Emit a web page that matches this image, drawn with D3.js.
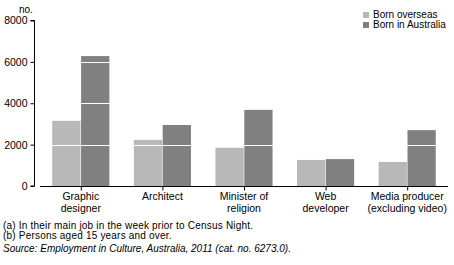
<!DOCTYPE html>
<html>
<head>
<meta charset="utf-8">
<script src="https://cdn.jsdelivr.net/npm/d3@7"></script>
<style>
  body { margin: 0; background: #fff; }
  svg { display: block; }
  text { font-family: "Liberation Sans Narrow", "Arial Narrow", sans-serif; fill: #000; }
</style>
</head>
<body>
<svg width="454" height="265"></svg>
<script>
// data
var categories = [["Graphic", "designer"], ["Architect"], ["Minister of", "religion"], ["Web", "developer"], ["Media producer", "(excluding video)"]];
var seriesNames = ["Born overseas", "Born in Australia"];
var bornOverseas = [3150, 2230, 1850, 1260, 1160];
var bornAustralia = [6280, 2950, 3680, 1300, 2700];
var yTicks = [0, 2000, 4000, 6000, 8000];
var footnotes = ["(a) In their main job in the week prior to Census Night.", "(b) Persons aged  15 years and over."];
var sourceText = "Source: Employment in Culture, Australia, 2011 (cat.  no.  6273.0).";

var colours = ["#b8b8b8", "#808080"];

var svg = d3.select("svg");

var x = d3.scaleBand().domain(d3.range(categories.length)).range([40, 448]).paddingInner(0.3).paddingOuter(0.15);
var xs = d3.scaleBand().domain([0, 1]).range([0, x.bandwidth()]).paddingInner(0.02);
var y = d3.scaleLinear().domain([0, 8000]).range([186, 20.5]);

var rows = categories.map(function (c, i) { return [bornOverseas[i], bornAustralia[i]]; });

// bars
var groups = svg.append("g").selectAll("g").data(rows).enter().append("g")
    .attr("transform", function (d, i) { return "translate(" + x(i) + ",0)"; });
groups.selectAll("rect").data(function (d) { return d; }).enter().append("rect")
    .attr("x", function (d, j) { return xs(j); })
    .attr("width", xs.bandwidth())
    .attr("y", function (d) { return y(d); })
    .attr("height", function (d) { return y(0) - y(d); })
    .attr("fill", function (d, j) { return colours[j]; });

// white gridlines over the bars
svg.append("g").selectAll("line").data(yTicks.filter(function (t) { return t > 0; })).enter().append("line")
    .attr("x1", 40).attr("x2", 448)
    .attr("y1", function (d) { return Math.round(y(d)) + 0.5; })
    .attr("y2", function (d) { return Math.round(y(d)) + 0.5; })
    .attr("stroke", "#fff").attr("stroke-width", 1);

// y axis
var yAxis = svg.append("g").attr("transform", "translate(34.5,0)")
    .call(d3.axisLeft(y).tickValues(yTicks).tickSize(4).tickPadding(3).tickFormat(d3.format("d")));
yAxis.select(".domain").attr("d", "M-4," + y(8000) + "H0V" + y(0) + "H-4").attr("stroke", "#000");
yAxis.selectAll("text").style("font-size", "10.5px").style("font-family", "Liberation Sans Narrow, sans-serif");

svg.append("text").attr("x", 19).attr("y", 13).style("font-size", "10px").text("no.");

// x axis
var xAxis = svg.append("g").attr("transform", "translate(0,186.5)")
    .call(d3.axisBottom(x).tickSize(4).tickFormat(""));
xAxis.select(".domain").attr("d", "M40,0H448").attr("stroke", "#000");
xAxis.selectAll(".tick line").attr("transform", "translate(0.5,0)");

svg.append("g").selectAll("text").data(categories).enter().append("text")
    .attr("text-anchor", "middle")
    .attr("x", function (d, i) { return x(i) + x.bandwidth() / 2; })
    .attr("y", 200)
    .style("font-size", "10.5px")
    .each(function (d) {
        var t = d3.select(this);
        d.forEach(function (line, k) {
            t.append("tspan").attr("x", t.attr("x")).attr("dy", k === 0 ? 0 : 12).text(line);
        });
    });

// legend
var legend = svg.append("g").selectAll("g").data(seriesNames).enter().append("g")
    .attr("transform", function (d, i) { return "translate(363," + (12 + i * 10) + ")"; });
legend.append("rect").attr("width", 6).attr("height", 6).attr("fill", function (d, i) { return colours[i]; });
legend.append("text").attr("x", 10).attr("y", 6).style("font-size", "10px").text(function (d) { return d; });

// footnotes and source
svg.append("g").selectAll("text").data(footnotes).enter().append("text")
    .attr("x", 3).attr("y", function (d, i) { return 229 + i * 9.5; })
    .style("font-size", "10px").style("letter-spacing", "0.2px").text(function (d) { return d; });
svg.append("text").attr("x", 3).attr("y", 252).style("font-size", "10px").style("font-style", "italic").text(sourceText);
</script>
</body>
</html>
